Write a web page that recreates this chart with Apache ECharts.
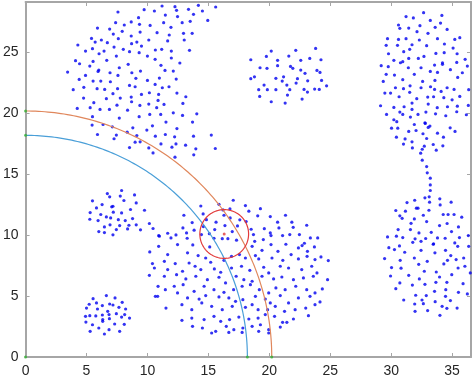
<!DOCTYPE html>
<html>
<head>
<meta charset="utf-8">
<script src="https://cdn.jsdelivr.net/npm/echarts@6/dist/echarts.min.js"></script>
<style>
  html, body { margin: 0; padding: 0; background: #fff; }
  #main { width: 474px; height: 378px; }
</style>
</head>
<body>
<div id="main"></div>
<script type="text/javascript">
// axis limits and tick labels
var xLimits = [0, 36.55];
var yLimits = [0, 29.15];
var tickStep = 5;

// clusters
var clusterTopLeft = [
  [7.58,28.33],[9.73,28.52],[10.57,28.41],[9.27,27.86],[7.39,27.45],[8.10,27.26],[8.67,27.51],[9.35,27.32],[10.22,27.23],
  [5.90,27.01],[6.90,26.93],[7.20,26.52],[7.93,26.74],[8.67,26.36],[9.40,26.68],[10.79,26.63],[5.41,26.16],[6.22,26.03],
  [5.71,25.86],[6.71,25.81],[7.61,26.14],[8.70,25.73],[9.13,25.86],[10.11,26.03],[9.51,25.53],[4.29,25.62],[5.49,25.32],
  [4.92,25.12],[6.44,25.12],[7.26,25.45],[8.02,25.26],[8.53,25.07],[10.65,25.21],[6.03,24.90],[5.54,24.27],[4.10,24.33],
  [4.43,24.08],[6.66,24.36],[7.45,24.71],[9.32,24.99],[10.00,24.71],[10.63,24.44],[8.42,24.03],[7.69,23.75],[6.01,23.56],
  [5.95,23.45],[5.27,23.89],[3.45,23.40],[4.92,23.12],[4.40,22.79],[5.54,22.66],[6.17,22.66],[6.93,23.34],[6.96,22.60],
  [7.58,23.12],[9.05,22.88],[10.00,22.71],[8.72,23.34],[9.43,23.48],[4.78,22.14],[3.91,21.95],[5.87,22.03],[6.49,21.97],
  [7.55,22.03],[8.53,22.30],[8.99,22.19],[10.63,22.38],[7.17,21.62],[7.77,21.26],[8.67,21.34],[9.51,21.56],[10.16,21.70],
  [4.76,21.26],[6.63,21.21],[5.60,20.88],[8.70,20.96],[5.30,20.47],[4.24,20.41],[6.11,20.33],[6.88,20.33],[7.50,20.68],
  [8.37,20.27],[9.38,20.66],[10.11,20.77],[10.76,20.47],[5.49,19.73],[7.69,19.62],[9.32,19.73],[10.19,19.92],
  [11.20,28.82],[12.26,28.77],[12.39,28.47],[13.37,28.55],[14.18,28.88],[15.60,28.74],[14.51,28.41],[11.47,28.08],
  [12.47,27.95],[13.78,28.14],[14.95,27.64],[11.33,27.45],[12.85,27.45],[13.51,27.56],[11.93,27.07],[11.79,26.44],
  [12.96,26.58],[13.67,26.58],[11.66,25.95],[13.02,26.03],[11.17,25.26],[11.96,25.12],[13.45,25.18],[11.96,24.55],
  [12.66,24.14],[11.11,23.95],[11.44,23.53],[12.12,23.48],[10.98,22.90],[12.36,22.82],[11.22,22.11],[11.77,22.19],
  [12.42,21.67],[10.92,21.56],[13.15,21.37],[10.87,21.07],[12.91,20.82],[11.36,20.74],[12.12,20.05],[14.05,19.97],
  [11.09,19.92],[12.88,19.84],[11.52,19.29],[13.70,19.29],
  [5.46,19.04],[6.36,19.09],[5.90,18.27],[7.12,18.90],[7.45,18.22],[7.26,17.92],[8.34,18.46],[8.80,18.82],[9.13,18.19],
  [8.53,17.20],[8.99,17.64],[9.40,17.67],[9.95,18.63],[10.41,18.98],[10.65,18.13],[10.11,17.17],[10.46,16.76],
  [12.42,18.76],[11.47,18.27],[12.23,18.08],[13.78,18.13],[15.24,18.22],[11.11,17.50],[12.34,17.50],[13.13,17.39],
  [12.01,17.23],[13.97,17.09],[15.57,17.12],[13.80,16.60],[12.26,16.41]
];

var clusterTopMid = [
  [18.48,24.41],[19.76,24.68],[20.16,25.12],[20.68,24.36],[21.60,24.71],[22.17,25.18],[22.58,24.36],[23.32,24.52],
  [23.80,25.34],[19.24,23.75],[19.81,23.70],[20.68,23.92],[21.74,23.86],[21.93,23.70],[22.58,23.56],[22.93,23.29],
  [18.48,22.85],[18.78,23.01],[19.57,22.33],[20.54,22.88],[21.06,22.66],[21.17,23.01],[22.31,22.85],[23.15,22.68],
  [19.13,21.95],[19.84,21.95],[20.54,21.95],[21.44,22.33],[21.68,21.95],[22.20,22.49],[22.85,21.97],[23.13,21.75],
  [23.72,22.00],[19.21,21.40],[21.49,21.51],[20.16,20.96],[21.30,20.85],[22.69,21.18],
  [24.24,24.41],[23.91,23.53],[24.16,23.37],[24.29,22.71],[24.70,22.27],[24.10,21.97]
];

var clusterMidLeft = [
  [6.71,13.42],[7.88,13.67],[6.90,13.15],[8.94,13.31],[5.49,12.82],[5.82,12.24],[6.28,12.52],[7.77,13.21],[8.07,12.85],
  [7.07,12.33],[7.17,12.38],[5.30,11.86],[6.17,11.70],[7.20,11.89],[7.88,11.83],[8.61,12.11],[9.08,12.65],[9.76,12.05],
  [6.63,11.50],[5.27,11.31],[5.95,11.20],[6.98,11.42],[7.61,11.28],[8.18,11.20],[8.78,11.37],[6.47,10.68],[6.93,10.85],
  [7.72,10.79],[8.48,10.82],[9.08,10.85],[10.16,10.96],[6.01,10.30],[6.47,10.22],[7.17,10.03],[7.45,10.46],[8.37,10.52],
  [9.43,10.44],[10.46,10.55]
];

var clusterBottomLeft = [
  [6.63,5.04],[7.34,4.85],[5.54,4.79],[7.93,4.49],[5.22,4.33],[5.82,4.44],[6.30,4.22],[6.90,4.35],[5.00,4.02],
  [5.90,3.94],[7.17,4.27],[7.66,4.08],[8.21,3.94],[6.74,3.75],[7.45,3.56],[6.30,3.45],[6.85,3.48],[5.76,3.37],
  [4.92,3.34],[5.27,3.39],[6.33,3.07],[6.88,3.15],[8.13,3.48],[7.88,3.28],[8.53,3.20],[4.95,2.87],[6.33,2.93],
  [7.31,2.71],[5.49,2.65],[8.10,2.68],[6.01,2.38],[6.85,2.24],[5.30,2.11],[6.47,1.89],[7.72,2.11]
];

var clusterBottomMid = [
  [17.04,12.87],[15.87,12.54],[18.04,12.43],[14.38,12.40],[16.77,12.16],[18.32,11.97],[19.27,12.18],[16.20,12.08],
  [19.05,11.59],[20.08,11.53],[21.33,11.64],[12.99,11.64],[14.57,11.75],[14.84,11.28],[16.28,11.64],[16.79,11.42],
  [17.58,11.26],[13.67,11.04],[18.10,11.12],[20.68,11.07],[21.85,11.07],[23.07,10.82],[14.59,10.71],[15.63,11.07],
  [16.36,10.79],[17.39,10.76],[18.51,10.49],[19.59,10.54],[20.79,10.60],[21.96,10.65],[12.91,10.60],[13.83,10.41],
  [11.66,10.16],[12.34,10.02],[13.21,10.19],[15.52,10.46],[16.96,10.30],[15.08,10.13],[16.14,9.72],[15.46,9.75],
  [14.43,10.05],[16.60,9.72],[18.70,10.05],[20.08,10.19],[20.14,9.97],[21.09,9.97],[21.68,10.05],[22.47,10.05],
  [23.37,9.78],[10.98,9.92],[11.93,9.78],[13.26,9.75],[17.31,9.59],[18.80,9.50],[19.51,9.64],[22.88,9.34],[23.97,9.78],
  [10.92,9.97],[10.19,8.63],[10.41,7.67],[10.16,6.71],[10.87,5.80],[10.65,4.98],
  [10.92,9.09],[12.47,9.23],[13.72,9.20],[15.11,9.04],[11.66,8.41],[13.29,8.55],[14.16,8.33],[14.78,8.13],[18.59,9.09],
  [19.40,8.76],[20.14,9.23],[20.71,8.68],[21.36,9.26],[22.39,8.96],[22.69,9.15],[23.13,8.68],[23.70,9.04],[11.39,7.86],
  [12.28,7.67],[13.42,7.72],[13.91,7.45],[15.19,7.78],[16.28,7.94],[16.90,8.27],[17.55,8.41],[18.04,8.13],[18.86,8.33],
  [19.13,8.05],[20.22,8.13],[21.11,7.94],[21.79,8.41],[22.39,8.05],[23.10,8.27],[23.75,8.00],[10.57,7.31],[11.66,7.18],
  [12.88,7.04],[14.38,7.18],[15.49,7.23],[16.01,6.96],[16.90,7.31],[17.72,7.45],[18.40,7.12],[19.54,7.37],[19.95,6.90],
  [20.90,7.45],[21.58,7.31],[22.66,7.18],[23.48,7.45],[11.39,6.63],[12.39,6.76],[13.15,6.41],[13.97,6.63],[14.92,6.35],
  [15.87,6.55],[16.41,6.08],[17.28,6.63],[17.91,6.35],[18.59,6.22],[19.40,6.63],[20.35,6.41],[21.03,6.57],[21.98,6.35],
  [22.80,6.49],[23.61,6.63],[11.47,5.53],[12.20,5.81],[12.93,5.94],[13.83,5.39],[14.65,5.81],[15.46,5.53],[16.28,5.31],
  [17.07,5.53],[17.77,5.81],[18.45,5.94],[19.18,5.53],[19.95,5.26],[20.54,5.67],[21.30,5.53],[22.17,5.81],[23.07,5.53],
  [23.75,5.26],[10.84,4.98],[12.47,5.26],[13.29,4.85],[14.24,4.76],[14.78,5.04],[15.87,4.93],[16.68,4.85],[17.23,4.57],
  [17.83,4.71],[18.86,4.98],[19.67,4.76],[20.08,4.44],[20.90,5.04],[21.58,4.44],[22.39,4.85],[23.34,4.98],[11.52,4.02],
  [12.83,4.30],[13.64,3.89],[14.46,4.44],[15.27,4.16],[16.14,3.89],[16.96,4.16],[18.04,4.08],[18.59,4.30],[19.08,3.89],
  [19.86,3.89],[20.49,4.16],[21.25,3.75],[22.12,3.89],[22.99,4.02],[23.75,4.30],[12.83,3.01],[13.64,3.20],[14.65,3.07],
  [15.46,3.34],[16.01,2.93],[16.74,3.07],[17.50,3.28],[18.32,3.12],[19.08,3.20],[19.67,3.48],[20.43,3.34],[21.09,2.85],
  [21.98,3.12],[23.21,3.39],[13.70,2.52],[14.51,2.38],[15.60,2.11],[16.47,2.52],[17.09,2.24],[17.83,2.38],[18.59,2.52],
  [19.27,2.65],[19.95,2.24],[20.90,2.46],[21.44,2.85],[15.27,1.97],[16.68,2.02],[17.77,2.02],[19.13,2.11],[19.95,1.97],
  [24.24,8.22],[24.84,7.92],[23.91,6.90],[24.78,6.35],[24.35,5.59],[24.16,4.52]
];

var clusterRightTop = [
  [32.66,28.27],[31.22,27.95],[31.82,27.84],[34.16,28.05],[33.21,27.64],[30.60,27.26],[30.71,26.99],[32.36,27.21],
  [34.05,27.42],[31.44,27.01],[33.61,27.07],[32.12,26.71],[34.59,26.90],[33.02,26.58],[29.70,26.14],[30.60,26.08],
  [31.22,26.14],[32.31,26.03],[33.80,26.14],[35.22,26.08],[35.63,26.22],[29.59,25.59],[30.52,25.59],[31.71,25.64],
  [32.91,25.56],[34.37,25.70],[35.08,25.37],[31.03,25.07],[31.52,25.26],[29.78,24.90],[33.67,24.93],[34.35,24.99],
  [35.41,24.90],[30.22,24.36],[30.76,24.16],[30.95,24.25],[31.44,24.52],[32.23,24.52],[32.69,24.68],[34.21,24.16],
  [34.21,24.03],[35.38,24.19],[36.07,24.44],[29.18,23.92],[29.76,23.84],[31.41,23.75],[32.45,23.75],[33.56,23.97],
  [33.21,23.45],[33.80,23.37],[34.86,23.59],[35.84,23.34],[36.25,23.89],[29.59,23.21],[30.27,23.15],[31.90,23.21],
  [30.95,22.77],[32.58,22.63],[33.59,22.71],[35.46,22.96],[29.35,22.63],[31.55,22.27],[30.35,22.11],[31.01,22.03],
  [32.45,22.11],[33.23,22.19],[33.56,21.97],[34.10,21.81],[34.59,22.11],[35.16,21.97],[36.36,21.95],[29.48,21.67],
  [29.95,21.67],[31.52,21.73],[30.65,21.37],[32.10,21.21],[33.00,21.34],[33.48,21.37],[34.32,21.29],[35.00,21.12],
  [35.63,21.40],[29.13,20.63],[30.22,20.49],[31.06,20.55],[31.71,20.85],[31.71,20.33],[33.04,20.77],[33.78,20.47],
  [34.62,20.55],[35.43,20.60],[36.33,20.66],[29.62,19.92],[30.71,20.11],[30.95,19.92],[31.58,19.70],[32.20,19.92],
  [32.85,20.11],[33.64,19.97],[34.48,19.81],[35.38,20.14],[36.17,19.89],[30.22,19.48],[30.46,19.32],[32.77,19.23],
  [31.90,19.09],[32.80,19.18],[33.18,18.96],[33.04,18.85],[30.03,18.79],[30.54,18.79],[31.44,18.52],[32.04,18.60],
  [32.61,18.33],[33.80,18.38],[34.84,18.82],[35.24,18.52],[30.43,18.05],[31.14,17.91],[32.91,17.94],[34.29,18.05],
  [31.01,17.48],[31.71,17.67],[32.72,17.31],[33.45,17.45],[34.24,17.34],[31.74,17.17],[32.55,17.06],[33.70,16.98],
  [32.42,16.74],[32.55,16.16],[32.91,15.64],[32.96,15.12],[33.21,14.68],[33.21,14.13],[33.21,13.67],[33.12,13.15],
  [32.77,13.07]
];

var clusterRightBottom = [
  [31.93,12.87],[31.30,12.68],[33.99,12.99],[34.92,12.71],[33.15,12.71],[34.02,12.49],[32.07,12.22],[32.20,12.22],
  [30.38,12.03],[31.17,11.97],[33.10,12.05],[30.71,11.59],[30.90,11.39],[31.90,11.34],[32.64,11.64],[34.27,11.70],
  [34.67,11.70],[35.16,11.70],[35.79,11.48],[31.63,10.98],[32.91,11.12],[34.59,10.96],[33.97,10.79],[35.52,10.68],
  [30.57,10.46],[31.58,10.46],[32.28,10.19],[33.29,10.24],[34.95,10.30],[29.70,9.86],[30.43,9.92],[30.95,9.81],
  [31.96,9.70],[32.83,9.73],[33.80,9.78],[34.43,9.75],[35.60,9.81],[36.33,9.97],[31.77,9.42],[32.45,9.50],[33.48,9.29],
  [35.22,9.37],[29.81,8.98],[30.27,8.82],[30.68,9.12],[32.45,8.76],[33.45,9.26],[35.46,9.09],[36.36,9.09],[29.46,8.08],
  [30.74,7.94],[31.90,8.13],[32.96,7.86],[32.26,7.61],[31.11,8.60],[34.46,8.76],[33.59,8.55],[34.89,8.33],[34.62,7.94],
  [35.33,8.00],[35.95,8.13],[34.32,7.64],[30.03,7.34],[30.81,7.29],[32.72,7.04],[33.70,6.98],[33.97,6.57],[31.44,6.71],
  [32.31,6.41],[34.97,6.76],[35.49,7.31],[36.05,7.45],[36.49,6.90],[29.95,6.65],[30.71,6.08],[31.74,5.91],[32.77,5.97],
  [33.67,6.13],[34.57,6.13],[35.90,6.02],[30.38,5.61],[33.56,5.39],[34.48,5.53],[35.52,5.31],[36.25,5.18],[31.03,4.68],
  [32.01,5.07],[32.53,4.68],[32.88,5.04],[33.61,4.54],[34.46,4.98],[34.86,4.63],[31.93,4.35],[32.64,4.38],[34.18,4.16],
  [34.57,4.00],[35.41,4.02],[31.96,3.75],[32.99,3.81],[34.00,3.42]
];

// arcs round the origin and the search circle: [cx, cy, r, fromDeg, toDeg]
var innerArc = [[0, 0, 18.2, 0, 90]];
var outerArc = [[0, 0, 20.2, 0, 90]];
var searchCircle = [[16.3, 10.1, 2.0, 0, 360]];
var circleCentre = [[16.3, 10.1]];
var arcEnds = [[0, 0], [0, 18.2], [18.2, 0], [0, 20.2], [20.2, 0]];

var allPoints = [].concat(clusterTopLeft, clusterTopMid, clusterMidLeft, clusterBottomLeft,
                          clusterBottomMid, clusterRightTop, clusterRightBottom);

function renderArc(params, api) {
  var cx = api.value(0), cy = api.value(1), r = api.value(2);
  var a0 = api.value(3), a1 = api.value(4);
  var steps = 120, pts = [];
  for (var i = 0; i <= steps; i++) {
    var t = (a0 + (a1 - a0) * i / steps) * Math.PI / 180;
    pts.push(api.coord([cx + r * Math.cos(t), cy + r * Math.sin(t)]));
  }
  return {
    type: 'polyline',
    shape: { points: pts },
    style: { stroke: api.visual('color'), lineWidth: 1.2, fill: null }
  };
}

var axisColor = '#a6a6a6';
function makeAxis(pos, lim, labels) {
  return {
    type: 'value', position: pos, min: lim[0], max: lim[1], interval: tickStep,
    axisLine: { show: true, onZero: false, lineStyle: { color: axisColor, width: 2 } },
    axisTick: { show: true, inside: true, length: 4, lineStyle: { color: axisColor } },
    axisLabel: {
      show: labels, showMaxLabel: false, margin: 7,
      color: '#262626', fontSize: 14, fontFamily: 'Liberation Sans, Arial, sans-serif'
    },
    splitLine: { show: false }
  };
}

var chart = echarts.init(document.getElementById('main'), null, { renderer: 'canvas' });
chart.setOption({
  animation: false,
  grid: { left: 22, right: 3, top: 2, bottom: 21, containLabel: false },
  xAxis: [makeAxis('bottom', xLimits, true), makeAxis('top', xLimits, false)],
  yAxis: [makeAxis('left', yLimits, true), makeAxis('right', yLimits, false)],
  series: [
    {
      type: 'scatter', data: allPoints, symbol: 'circle', symbolSize: 3.2,
      itemStyle: { color: '#0000f0' }, z: 2
    },
    { type: 'custom', data: innerArc, renderItem: renderArc, itemStyle: { color: '#4a9fd8' }, z: 3 },
    { type: 'custom', data: outerArc, renderItem: renderArc, itemStyle: { color: '#e0875c' }, z: 3 },
    { type: 'custom', data: searchCircle, renderItem: renderArc, itemStyle: { color: '#e23a3a' }, z: 3 },
    {
      type: 'scatter', data: circleCentre, symbolSize: 3,
      itemStyle: { color: '#e23a3a' }, z: 4
    },
    {
      type: 'scatter', data: arcEnds, symbolSize: 3,
      itemStyle: { color: '#33b033' }, z: 4
    }
  ]
});

window.addEventListener('resize', function() { chart.resize(); });
</script>
</body>
</html>
